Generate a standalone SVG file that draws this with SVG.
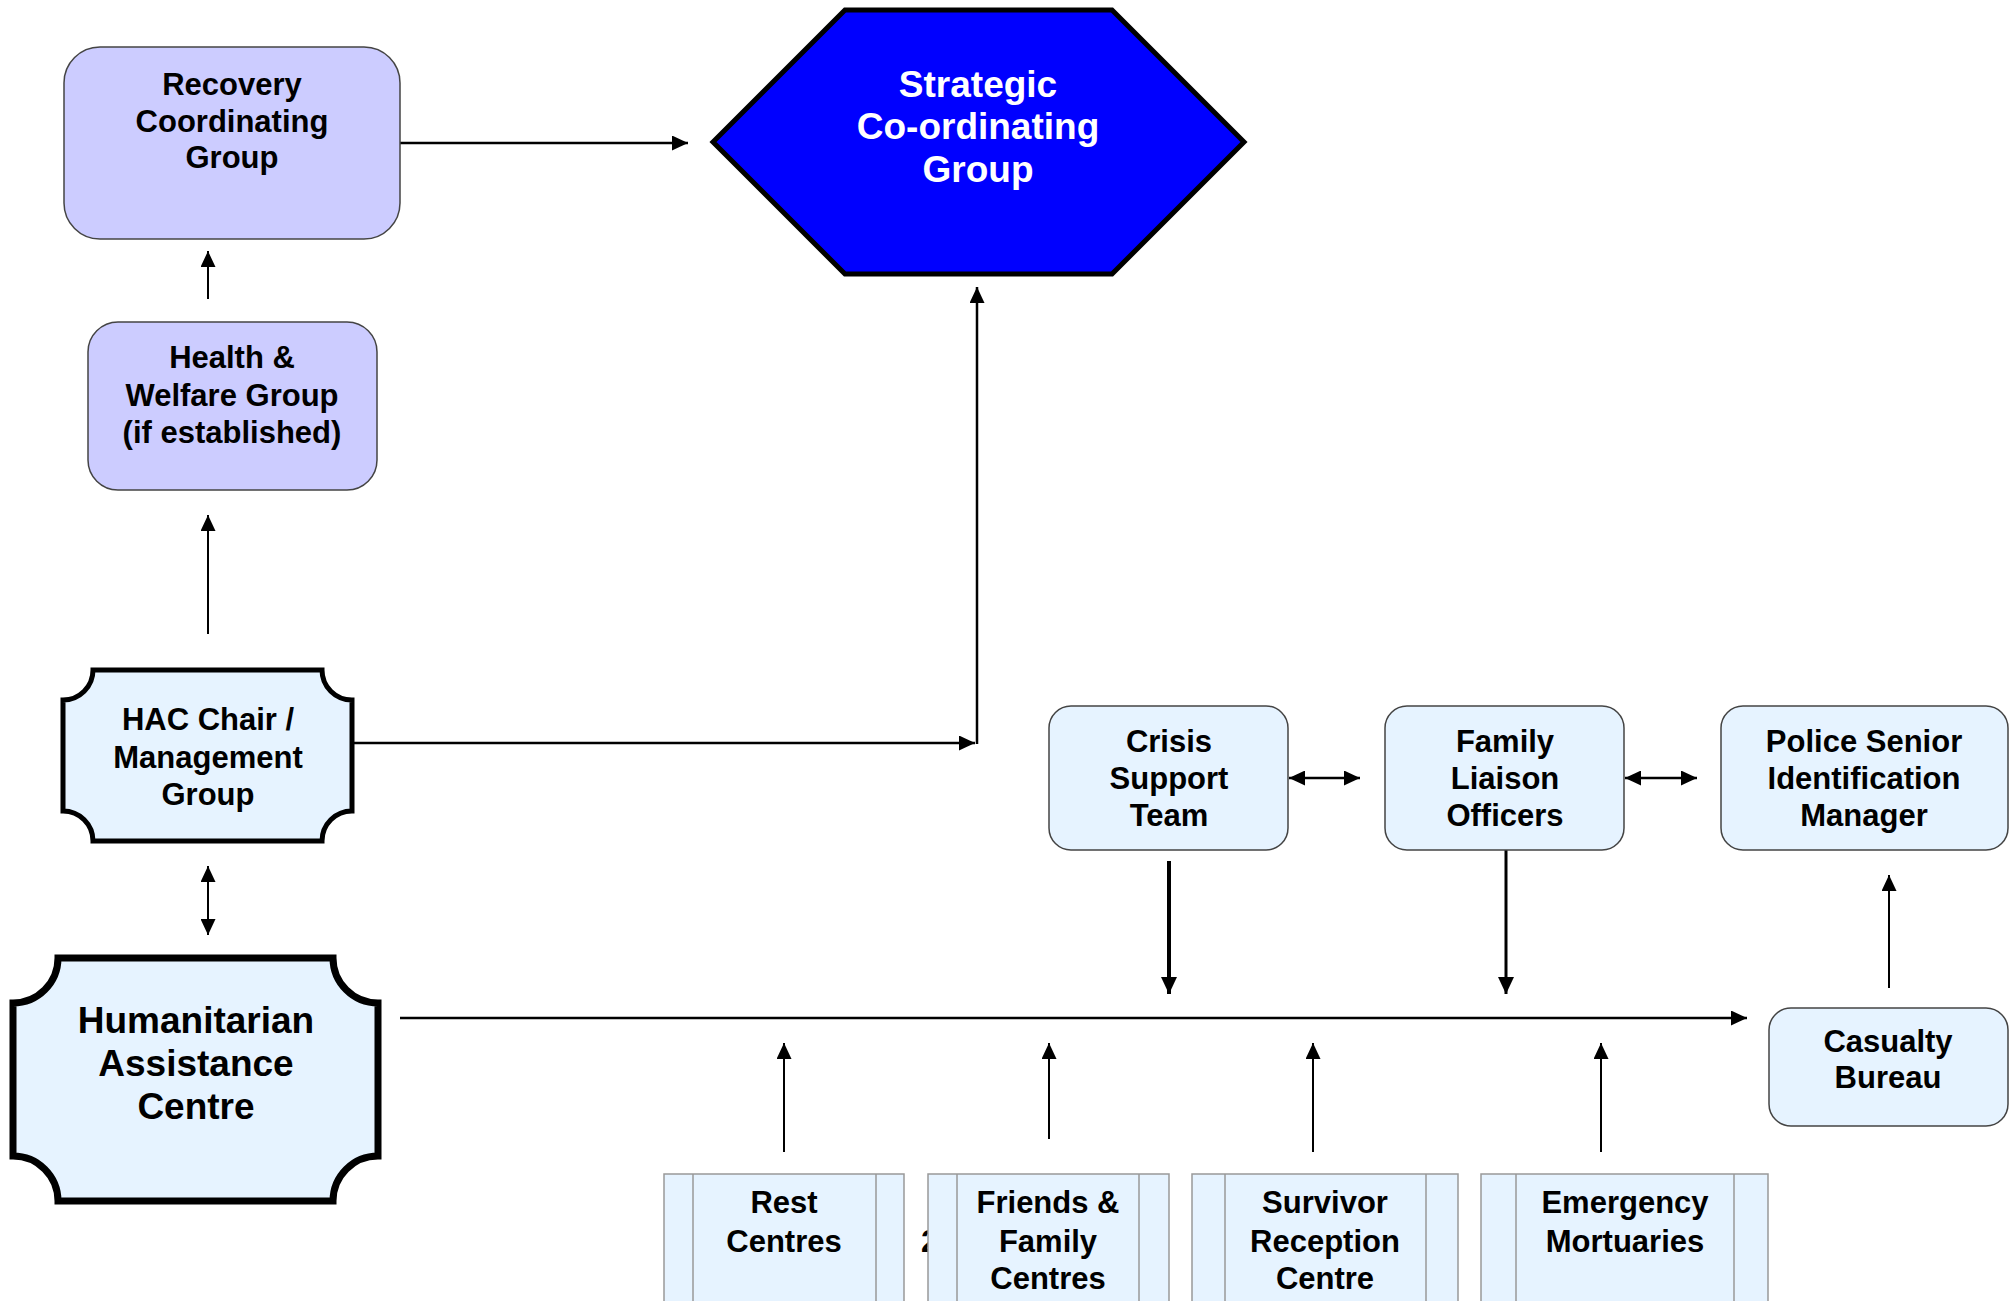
<svg xmlns="http://www.w3.org/2000/svg" width="2013" height="1301" viewBox="0 0 2013 1301">
<style>
text{font-family:"Liberation Sans",Arial,sans-serif;font-weight:bold;fill:#000;text-anchor:middle}
.t31{font-size:31px}
.t36{font-size:37px}
.t37{font-size:37px;fill:#fff}
.lav{fill:#CCCCFF;stroke:#444;stroke-width:1.5}
.lb{fill:#E6F3FF;stroke:#444;stroke-width:1.5}
.lb2{fill:#E6F3FF;stroke:#999;stroke-width:1.5}
.thin{fill:none;stroke:#999;stroke-width:1.5}
.notch{fill:#E6F3FF;stroke:#000}
.c{fill:none;stroke:#000}
</style>
<defs>
<marker id="ah" viewBox="0 0 16 15" refX="16" refY="7.5" markerWidth="16" markerHeight="15" orient="auto-start-reverse" markerUnits="userSpaceOnUse"><path d="M0,0 L16,7.5 L0,15 Z" fill="#000"/></marker>
<marker id="ahb" viewBox="0 0 17 16" refX="17" refY="8" markerWidth="17" markerHeight="16" orient="auto-start-reverse" markerUnits="userSpaceOnUse"><path d="M0,0 L17,8 L0,16 Z" fill="#000"/></marker>
</defs>

<g id="connectors">
<line class="c" x1="400" y1="143" x2="688" y2="143" stroke-width="2.5" marker-end="url(#ah)"/>
<line class="c" x1="208" y1="299" x2="208" y2="251" stroke-width="2" marker-end="url(#ah)"/>
<line class="c" x1="208" y1="634" x2="208" y2="515" stroke-width="2" marker-end="url(#ah)"/>
<line class="c" x1="208" y1="866" x2="208" y2="935" stroke-width="2" marker-start="url(#ah)" marker-end="url(#ah)"/>
<line class="c" x1="353" y1="743" x2="975" y2="743" stroke-width="2.5" marker-end="url(#ah)"/>
<line class="c" x1="977" y1="744" x2="977" y2="287" stroke-width="2.5" marker-end="url(#ah)"/>
<line class="c" x1="400" y1="1018" x2="1747" y2="1018" stroke-width="2.5" marker-end="url(#ah)"/>
<line class="c" x1="1289" y1="778" x2="1360" y2="778" stroke-width="2.5" marker-start="url(#ah)" marker-end="url(#ah)"/>
<line class="c" x1="1625" y1="778" x2="1697" y2="778" stroke-width="2.5" marker-start="url(#ah)" marker-end="url(#ah)"/>
<line class="c" x1="1169" y1="861" x2="1169" y2="994" stroke-width="4" marker-end="url(#ahb)"/>
<line class="c" x1="1506" y1="850" x2="1506" y2="994" stroke-width="3" marker-end="url(#ahb)"/>
<line class="c" x1="1889" y1="988" x2="1889" y2="875" stroke-width="2" marker-end="url(#ah)"/>
<line class="c" x1="784" y1="1152" x2="784" y2="1043" stroke-width="2" marker-end="url(#ah)"/>
<line class="c" x1="1049" y1="1139" x2="1049" y2="1043" stroke-width="2" marker-end="url(#ah)"/>
<line class="c" x1="1313" y1="1152" x2="1313" y2="1043" stroke-width="2" marker-end="url(#ah)"/>
<line class="c" x1="1601" y1="1152" x2="1601" y2="1043" stroke-width="2" marker-end="url(#ah)"/>
</g>

<g id="recovery">
<rect class="lav" x="64" y="47" width="336" height="192" rx="36" ry="36"/>
<text class="t31" x="232" y="95">Recovery</text>
<text class="t31" x="232" y="132">Coordinating</text>
<text class="t31" x="232" y="168">Group</text>
</g>

<g id="scg">
<polygon points="713,142 845,10 1112,10 1244,142 1112,274 845,274" fill="#0000FF" stroke="#000" stroke-width="5"/>
<text class="t37" x="978" y="97">Strategic</text>
<text class="t37" x="978" y="139">Co-ordinating</text>
<text class="t37" x="978" y="182">Group</text>
</g>

<g id="health">
<rect class="lav" x="88" y="322" width="289" height="168" rx="30" ry="30"/>
<text class="t31" x="232" y="368">Health &amp;</text>
<text class="t31" x="232" y="406">Welfare Group</text>
<text class="t31" x="232" y="443">(if established)</text>
</g>

<g id="hac-chair">
<path class="notch" stroke-width="5" d="M93,670 H322 A30,30 0 0 0 352,700 V811 A30,30 0 0 0 322,841 H93 A30,30 0 0 0 63,811 V700 A30,30 0 0 0 93,670 Z"/>
<text class="t31" x="208" y="730">HAC Chair /</text>
<text class="t31" x="208" y="768">Management</text>
<text class="t31" x="208" y="805">Group</text>
</g>

<g id="hac-centre">
<path class="notch" stroke-width="7" d="M58,958 H333 A45,45 0 0 0 378,1003 V1156 A45,45 0 0 0 333,1201 H58 A45,45 0 0 0 13,1156 V1003 A45,45 0 0 0 58,958 Z"/>
<text class="t36" x="196" y="1033">Humanitarian</text>
<text class="t36" x="196" y="1076">Assistance</text>
<text class="t36" x="196" y="1119">Centre</text>
</g>

<g id="crisis">
<rect class="lb" x="1049" y="706" width="239" height="144" rx="22" ry="22"/>
<text class="t31" x="1169" y="752">Crisis</text>
<text class="t31" x="1169" y="789">Support</text>
<text class="t31" x="1169" y="826">Team</text>
</g>

<g id="family-liaison">
<rect class="lb" x="1385" y="706" width="239" height="144" rx="22" ry="22"/>
<text class="t31" x="1505" y="752">Family</text>
<text class="t31" x="1505" y="789">Liaison</text>
<text class="t31" x="1505" y="826">Officers</text>
</g>

<g id="police">
<rect class="lb" x="1721" y="706" width="287" height="144" rx="22" ry="22"/>
<text class="t31" x="1864" y="752">Police Senior</text>
<text class="t31" x="1864" y="789">Identification</text>
<text class="t31" x="1864" y="826">Manager</text>
</g>

<g id="casualty">
<rect class="lb" x="1769" y="1008" width="239" height="118" rx="22" ry="22"/>
<text class="t31" x="1888" y="1052">Casualty</text>
<text class="t31" x="1888" y="1088">Bureau</text>
</g>

<text class="t31" x="921" y="1252" style="text-anchor:start">2</text>

<g id="rest-centres">
<rect class="lb2" x="664" y="1174" width="240" height="150"/>
<line class="thin" x1="693" y1="1174" x2="693" y2="1324"/>
<line class="thin" x1="876" y1="1174" x2="876" y2="1324"/>
<text class="t31" x="784" y="1213">Rest</text>
<text class="t31" x="784" y="1252">Centres</text>
</g>

<g id="friends-family">
<rect class="lb2" x="928" y="1174" width="241" height="150"/>
<line class="thin" x1="957" y1="1174" x2="957" y2="1324"/>
<line class="thin" x1="1139" y1="1174" x2="1139" y2="1324"/>
<text class="t31" x="1048" y="1213">Friends &amp;</text>
<text class="t31" x="1048" y="1252">Family</text>
<text class="t31" x="1048" y="1289">Centres</text>
</g>

<g id="survivor">
<rect class="lb2" x="1192" y="1174" width="266" height="150"/>
<line class="thin" x1="1225" y1="1174" x2="1225" y2="1324"/>
<line class="thin" x1="1426" y1="1174" x2="1426" y2="1324"/>
<text class="t31" x="1325" y="1213">Survivor</text>
<text class="t31" x="1325" y="1252">Reception</text>
<text class="t31" x="1325" y="1289">Centre</text>
</g>

<g id="mortuaries">
<rect class="lb2" x="1481" y="1174" width="287" height="150"/>
<line class="thin" x1="1516" y1="1174" x2="1516" y2="1324"/>
<line class="thin" x1="1734" y1="1174" x2="1734" y2="1324"/>
<text class="t31" x="1625" y="1213">Emergency</text>
<text class="t31" x="1625" y="1252">Mortuaries</text>
</g>
</svg>
